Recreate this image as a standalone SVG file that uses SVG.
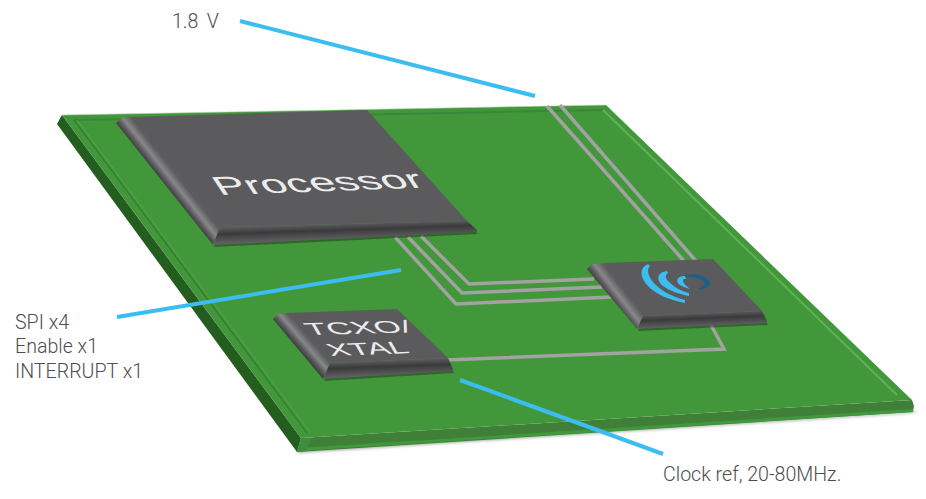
<svg xmlns="http://www.w3.org/2000/svg" width="926" height="499" viewBox="0 0 926 499">
<style>
.trace{fill:none;stroke:#a2a2a2;stroke-width:3.5;stroke-linejoin:miter}
.lead{fill:none;stroke:#3cbdf0;stroke-width:4}
.label{font-family:"Roboto","Liberation Sans",sans-serif;font-weight:300;font-size:19.6px;fill:#4d4d4d}
.chiptext{font-family:"Liberation Sans",Arial,sans-serif;fill:#ececec}
.top{fill:#5b5b5d}
.wave{fill:#3cbdf0}
.shadow{fill:#000;opacity:0.3}
</style>
<defs>
<filter id="blur" x="-5%" y="-5%" width="110%" height="110%"><feGaussianBlur stdDeviation="1.6"/></filter>
<filter id="blur1" x="-5%" y="-5%" width="110%" height="110%"><feGaussianBlur stdDeviation="0.7"/></filter>
<linearGradient id="bevStops">
<stop offset="0" stop-color="#404042"/><stop offset="0.25" stop-color="#5c5c5e"/><stop offset="0.55" stop-color="#88888a"/><stop offset="1" stop-color="#5b5b5d"/>
</linearGradient>
<linearGradient id="botStops">
<stop offset="0" stop-color="#5b5b5d"/><stop offset="0.4" stop-color="#3a3a3c"/><stop offset="1" stop-color="#5e5e60"/>
</linearGradient>
<linearGradient id="bevP" href="#bevStops" gradientUnits="userSpaceOnUse" x1="116" y1="123" x2="128" y2="113.5"/>
<linearGradient id="bevR" href="#bevStops" gradientUnits="userSpaceOnUse" x1="587" y1="269" x2="599.6" y2="259.2"/>
<linearGradient id="bevT" href="#bevStops" gradientUnits="userSpaceOnUse" x1="273" y1="319" x2="284.2" y2="309.4"/>
<linearGradient id="botP" href="#botStops" gradientUnits="userSpaceOnUse" x1="340" y1="224" x2="340.5" y2="239"/>
<linearGradient id="botR" href="#botStops" gradientUnits="userSpaceOnUse" x1="700" y1="313" x2="700.5" y2="326"/>
<linearGradient id="botT" href="#botStops" gradientUnits="userSpaceOnUse" x1="390" y1="360.5" x2="390.5" y2="375"/>
</defs>

<g id="board">
<polygon points="297,453 913,413 918,411 300,448" fill="#8a8a8a" opacity="0.75" filter="url(#blur)"/>
<polygon points="57,124 62,115 301,438 297,452" fill="#245e1e"/>
<polygon points="301,438 912,400 914,406 913,412 297,452" fill="#3f7f38"/>
<polygon points="297,452 313,450 913,412 913,409 300,448" fill="#3f9a3b"/>
<polygon points="297,452 301,438 312,438 306,451" fill="#3f8f3a"/>
<polygon points="62,115 606,105 912,400 301,438" fill="#43973b"/>
<path d="M74,120 L603,110" fill="none" stroke="#37783a" stroke-width="2" opacity="0.55" filter="url(#blur1)"/>
<path d="M74,120 L307,433" fill="none" stroke="#2f7030" stroke-width="1.2" opacity="0.8"/>
<path d="M77,120 L310,432" fill="none" stroke="#6fb864" stroke-width="1" opacity="0.4"/>
<path d="M603,110 L897,395" fill="none" stroke="#6cb961" stroke-width="2" opacity="0.75" filter="url(#blur1)"/>
<path d="M62,115 L606,105" fill="none" stroke="#b8d8b0" stroke-width="1" opacity="0.6"/>
</g>

<g id="connectors">
<polyline class="trace" points="395,237 456,304 612,297"/>
<polyline class="trace" points="408,237 462,293 602,287"/>
<polyline class="trace" points="421,236 469,284 594,279"/>
<polyline class="trace" points="547,106 684,261"/>
<polyline class="trace" points="560,105 696,261"/>
<polyline class="trace" points="446,360 724,349 711,325"/>
</g>

<g id="processor">
<polygon class="shadow" points="213,245 477,232 466,222 219,228" filter="url(#blur1)" transform="translate(1,2)"/>
<polygon points="116,123 122,118 131,117 220,227 213,245" fill="url(#bevP)"/>
<polygon points="220,227 467,221 477,230 477,232 213,245" fill="url(#botP)"/>
<polygon class="top" points="131,117 367,110 467,221 220,227"/>
<text class="chiptext" font-size="30" transform="matrix(1.53,-0.055,0.56,0.85,220,195)">Processor</text>
</g>

<g id="radio">
<polygon class="shadow" points="637,329 767,323 760,312 643,316" filter="url(#blur1)" transform="translate(1,2)"/>
<polygon points="587,269 592,264 603,263 643,316 637,329" fill="url(#bevR)"/>
<polygon points="643,316 762,311 767,321 767,323 637,329" fill="url(#botR)"/>
<polygon class="top" points="603,263 713,259 762,311 643,316"/>
<path class="wave" d="M648,264 C640,267 639,276 647,285 C656,295 670,300 685,303 L685,300 C672,297 660,290 653,282 C647,274 647,269 650,266 Z"/>
<path class="wave" d="M667,271 C658,272 655,279 663,286 C670,291 679,294 689,296 L689,293 C681,291 674,287 669,282 C665,278 665,275 668,273 Z"/>
<path class="wave" d="M685,276 C677,276 675,281 680,285 C683,287 687,288 690,289 C687,286 683,284 683,281 C683,279 684,279 686,279 Z"/>
<path d="M685,275 C698,272 711,278 710,284 C709,288 703,290 697,289 C702,287 706,285 704,282 C701,278 694,277 686,277 Z" fill="#1f5f85"/>
</g>

<g id="tcxo">
<polygon class="shadow" points="323,379 453,371 447,360 330,363" filter="url(#blur1)" transform="translate(1,2)"/>
<polygon points="273,319 278,314 287,313 330,363 323,379" fill="url(#bevT)"/>
<polygon points="330,363 448,358 453,369 453,371 323,379" fill="url(#botT)"/>
<polygon class="top" points="287,313 397,309 448,358 330,363"/>
<text class="chiptext" font-size="18" transform="matrix(1.9,-0.05,0.55,0.95,309,335)">TCXO/</text>
<text class="chiptext" font-size="18" transform="matrix(1.82,-0.07,0.55,0.95,331,356)">XTAL</text>
</g>

<g id="leads">
<line class="lead" x1="240" y1="21" x2="535" y2="96"/>
<line class="lead" x1="117" y1="317" x2="401" y2="270"/>
<line class="lead" x1="460" y1="380" x2="663" y2="454"/>
</g>

<g id="labels">
<text class="label" x="172" y="28" word-spacing="3.5">1.8 V</text>
<text class="label" x="15" y="329">SPI x4</text>
<text class="label" x="15" y="353">Enable x1</text>
<text class="label" x="15" y="378">INTERRUPT x1</text>
<text class="label" x="663" y="481">Clock ref, 20-80MHz.</text>
</g>
</svg>
